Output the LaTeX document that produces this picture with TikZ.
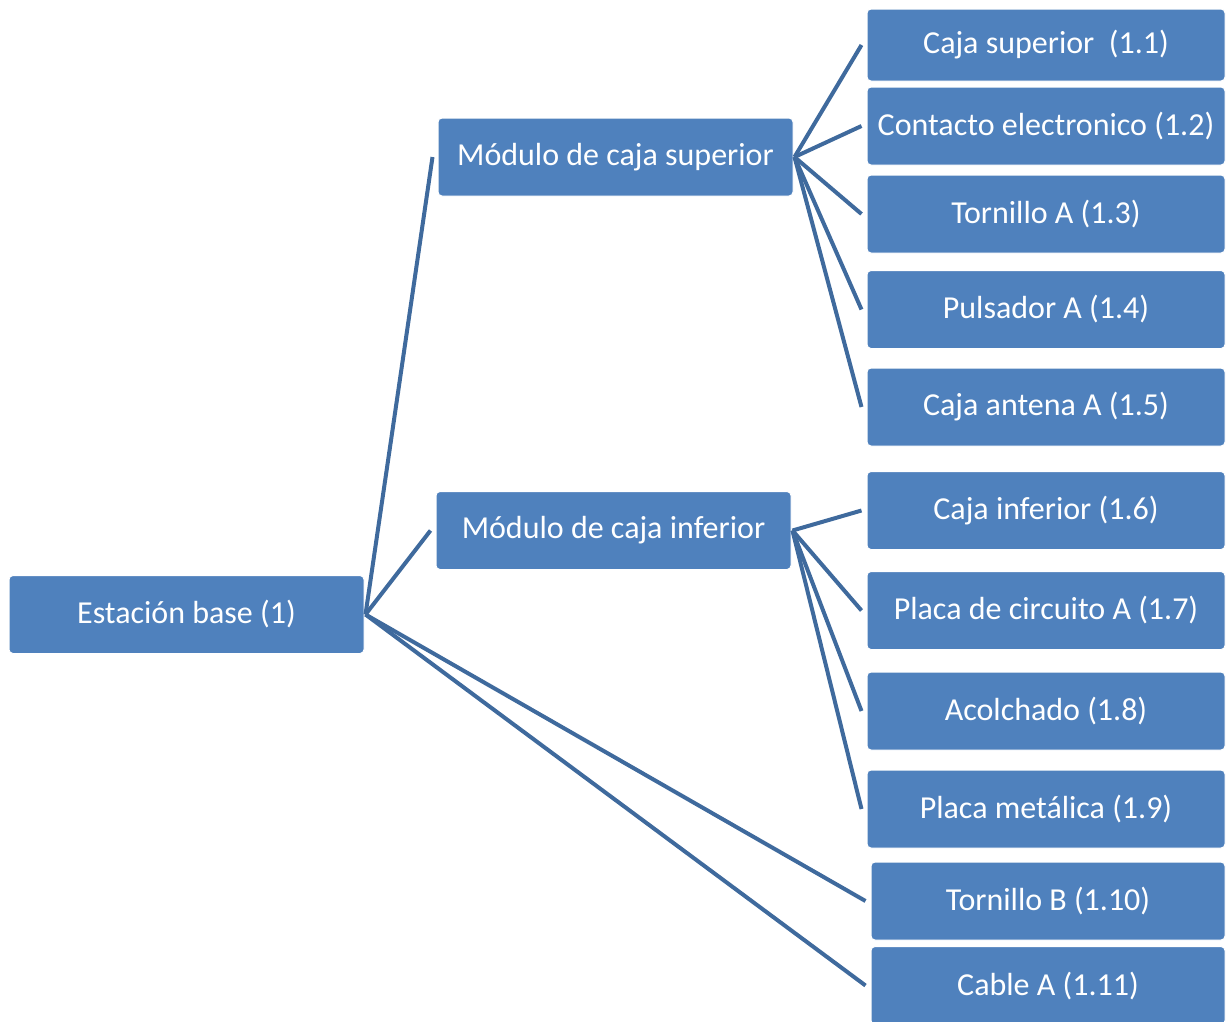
\documentclass[tikz,border=0pt]{standalone}
\usepackage{fontspec}
\setmainfont{Carlito}
\definecolor{boxblue}{HTML}{4F81BD}
\definecolor{linkblue}{HTML}{3F6A9D}
\tikzset{
  part/.style={rectangle, rounded corners=4pt, fill=boxblue, draw=white, line width=1pt,
    text=white, inner sep=0pt, font=\fontsize{32}{38}\selectfont,
    minimum width=#1, minimum height=78pt},
  part/.default=355pt,
  link/.style={draw=linkblue, line width=4pt},
}
\begin{document}
\begin{tikzpicture}[x=1pt,y=-1pt]
\clip (0,0) rectangle (1226,1021);
\path[use as bounding box] (0,0) rectangle (1226,1021);

% root and modules
\node[part] (base) at (186.5,614.5) {Estación base (1)};
\node[part] (msup) at (615.5,157) {Módulo de caja superior};
\node[part] (minf) at (613.5,530.5) {Módulo de caja inferior};

% leaf parts
\node[part=358pt, minimum height=72pt] (c1) at (1046,45) {Caja superior\ \ (1.1)};
\node[part=358pt] (c2) at (1046,126) {Contacto electronico (1.2)};
\node[part=358pt] (c3) at (1046,214) {Tornillo A (1.3)};
\node[part=358pt] (c4) at (1046,309.5) {Pulsador A (1.4)};
\node[part=358pt] (c5) at (1046,407) {Caja antena A (1.5)};
\node[part=358pt] (c6) at (1046,510.5) {Caja inferior (1.6)};
\node[part=358pt] (c7) at (1046,610.5) {Placa de circuito A (1.7)};
\node[part=358pt] (c8) at (1046,711) {Acolchado (1.8)};
\node[part=358pt] (c9) at (1046,809) {Placa metálica (1.9)};
\node[part=354pt] (c10) at (1048,901) {Tornillo B (1.10)};
\node[part=354pt] (c11) at (1048,985.5) {Cable A (1.11)};

% connectors
\foreach \t in {msup,minf,c10,c11}
  \draw[link] ([xshift=1pt]base.east) -- ([xshift=-5pt]\t.west);
\foreach \t in {c1,c2,c3,c4,c5}
  \draw[link] ([xshift=1pt]msup.east) -- ([xshift=-5pt]\t.west);
\foreach \t in {c6,c7,c8,c9}
  \draw[link] ([xshift=1pt]minf.east) -- ([xshift=-5pt]\t.west);
\end{tikzpicture}
\end{document}
